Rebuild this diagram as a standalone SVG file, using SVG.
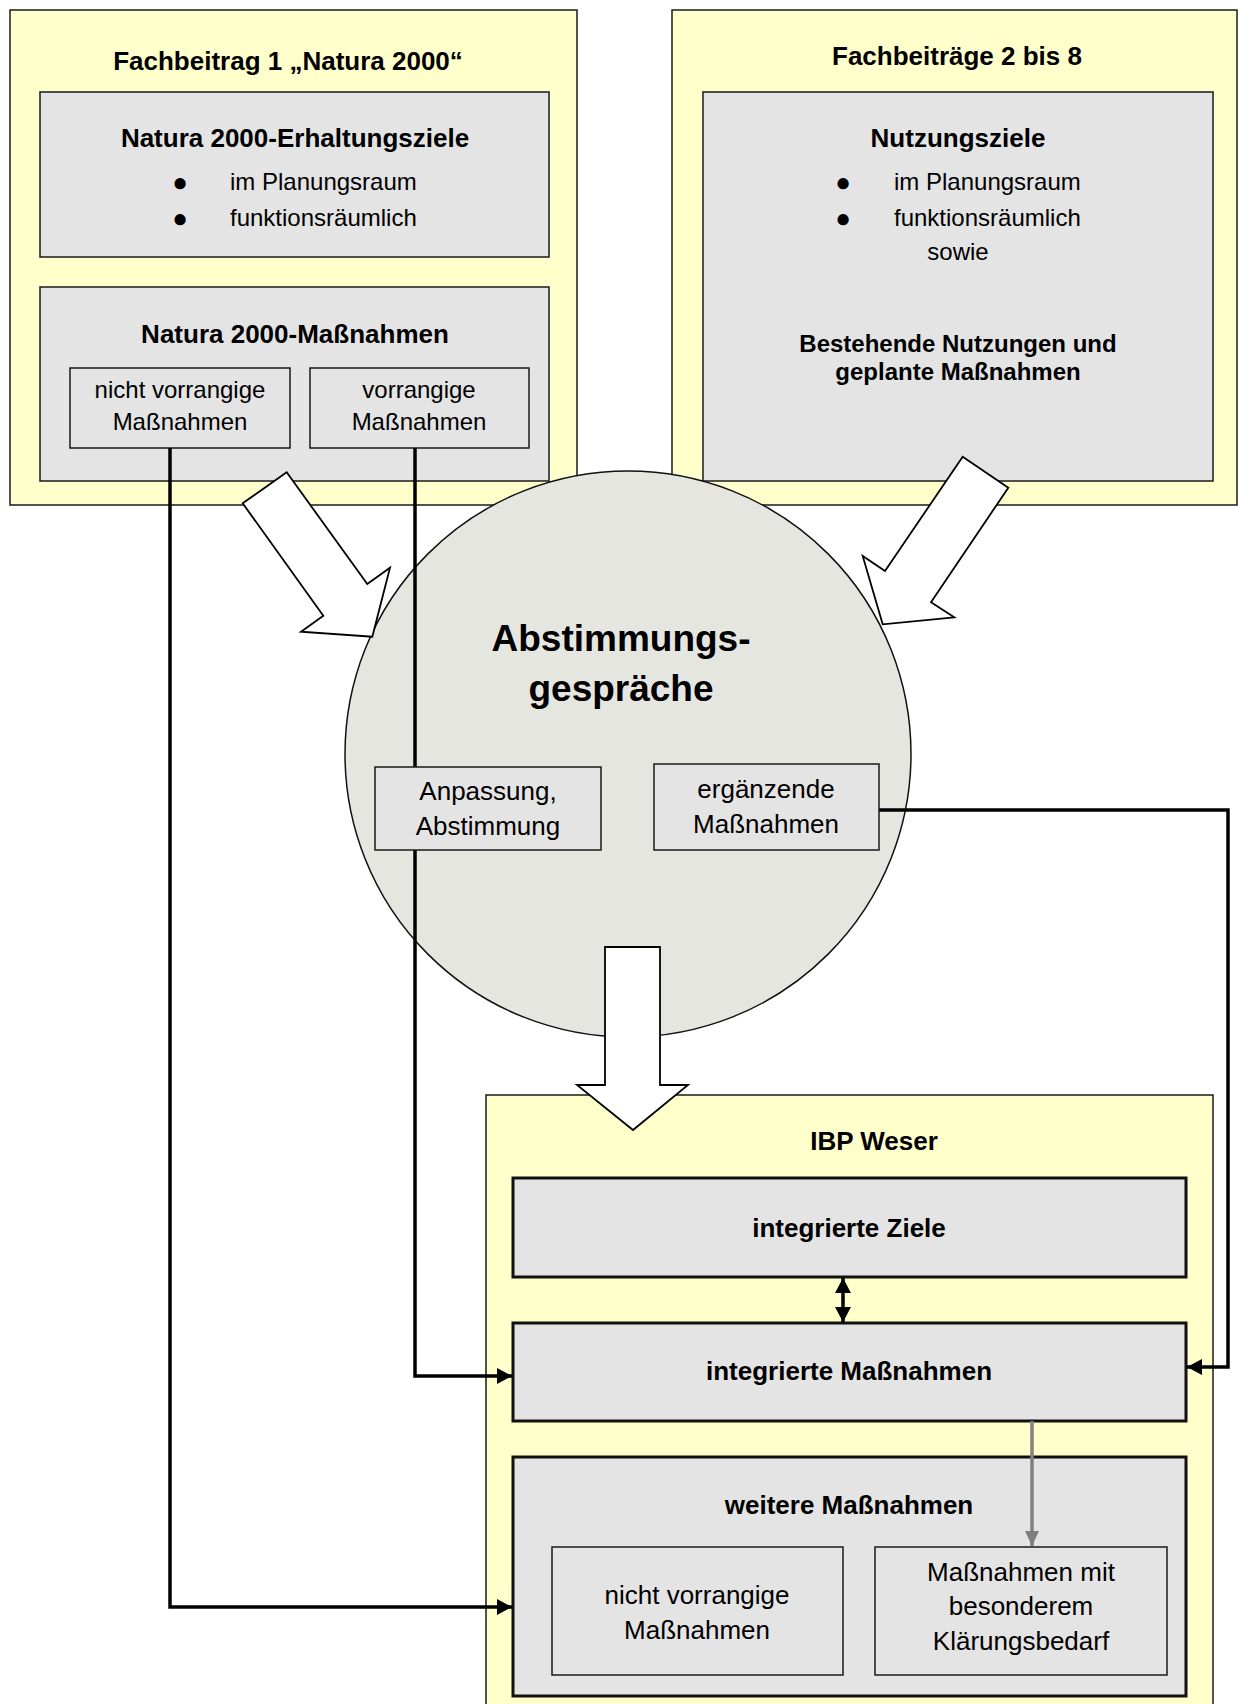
<svg xmlns="http://www.w3.org/2000/svg" width="1238" height="1704" viewBox="0 0 1238 1704">
<defs>
<style>
.yel{fill:#FFFFCC;stroke:#1a1a1a;stroke-width:1.5}
.gry{fill:#E4E4E4;stroke:#1a1a1a;stroke-width:1.5}
.gryb{fill:#E4E4E4;stroke:#111;stroke-width:3}
.circ{fill:#E6E6E1;stroke:#111;stroke-width:1.5}
.blk{fill:#fff;stroke:#000;stroke-width:1.8;stroke-linejoin:miter}
text{font-family:"Liberation Sans",Arial,sans-serif;fill:#000}
.t26b{font-size:26px;font-weight:bold}
.t24b{font-size:24px;font-weight:bold}
.t37b{font-size:37px;font-weight:bold}
.t24{font-size:24px}
.t26{font-size:26px}
.bul{font-size:26px}
.mid{text-anchor:middle}
.con{fill:none;stroke:#000;stroke-width:3.5}
.cong{fill:none;stroke:#808080;stroke-width:3.5}
</style>
<marker id="ah" markerUnits="userSpaceOnUse" markerWidth="15" markerHeight="16" refX="15" refY="8" orient="auto-start-reverse" viewBox="0 0 15 16"><path d="M0,0 L15,8 L0,16 z" fill="#000"/></marker>
<marker id="ahg" markerUnits="userSpaceOnUse" markerWidth="15" markerHeight="14" refX="15" refY="7" orient="auto" viewBox="0 0 15 14"><path d="M0,0 L15,7 L0,14 z" fill="#808080"/></marker>
</defs>
<rect width="1238" height="1704" fill="#fff"/>

<g id="fachbeitrag1">
<rect class="yel" x="10" y="10" width="567" height="495"/>
<text class="t26b mid" x="288" y="70">Fachbeitrag 1 „Natura 2000“</text>
</g>
<g id="erhaltungsziele">
<rect class="gry" x="40" y="92" width="509" height="165"/>
<text class="t26b mid" x="295" y="147">Natura 2000-Erhaltungsziele</text>
<text class="bul mid" x="180" y="191">●</text>
<text class="t24" x="230" y="190">im Planungsraum</text>
<text class="bul mid" x="180" y="227">●</text>
<text class="t24" x="230" y="226">funktionsräumlich</text>
</g>
<g id="natura-massnahmen">
<rect class="gry" x="40" y="287" width="509" height="194"/>
<text class="t26b mid" x="295" y="343">Natura 2000-Maßnahmen</text>
</g>
<g id="nicht-vorrangig-top">
<rect class="gry" x="70" y="368" width="220" height="80"/>
<text class="t24 mid" x="180" y="398">nicht vorrangige</text>
<text class="t24 mid" x="180" y="430">Maßnahmen</text>
</g>
<g id="vorrangig-top">
<rect class="gry" x="310" y="368" width="219" height="80"/>
<text class="t24 mid" x="419" y="398">vorrangige</text>
<text class="t24 mid" x="419" y="430">Maßnahmen</text>
</g>

<g id="fachbeitraege2-8">
<rect class="yel" x="672" y="10" width="565" height="495"/>
<text class="t26b mid" x="957" y="65">Fachbeiträge 2 bis 8</text>
</g>
<g id="nutzungsziele">
<rect class="gry" x="703" y="92" width="510" height="389"/>
<text class="t26b mid" x="958" y="147">Nutzungsziele</text>
<text class="bul mid" x="843" y="191">●</text>
<text class="t24" x="894" y="190">im Planungsraum</text>
<text class="bul mid" x="843" y="227">●</text>
<text class="t24" x="894" y="226">funktionsräumlich</text>
<text class="t24 mid" x="958" y="260">sowie</text>
<text class="t24b mid" x="958" y="352">Bestehende Nutzungen und</text>
<text class="t24b mid" x="958" y="380">geplante Maßnahmen</text>
</g>

<g id="ibp-weser">
<rect class="yel" x="486" y="1095" width="727" height="620"/>
<text class="t26b mid" x="874" y="1150">IBP Weser</text>
</g>
<g id="integrierte-ziele">
<rect class="gryb" x="513" y="1178" width="673" height="99"/>
<text class="t26b mid" x="849" y="1237">integrierte Ziele</text>
</g>
<g id="integrierte-massnahmen">
<rect class="gryb" x="513" y="1323" width="673" height="98"/>
<text class="t26b mid" x="849" y="1380">integrierte Maßnahmen</text>
</g>
<g id="weitere-massnahmen">
<rect class="gryb" x="513" y="1457" width="673" height="239"/>
<text class="t26b mid" x="849" y="1514">weitere Maßnahmen</text>
</g>
<g id="nicht-vorrangig-bottom">
<rect class="gry" x="552" y="1547" width="291" height="128"/>
<text class="t26 mid" x="697" y="1604">nicht vorrangige</text>
<text class="t26 mid" x="697" y="1639">Maßnahmen</text>
</g>
<g id="klaerungsbedarf">
<rect class="gry" x="875" y="1547" width="292" height="128"/>
<text class="t26 mid" x="1021" y="1581">Maßnahmen mit</text>
<text class="t26 mid" x="1021" y="1615">besonderem</text>
<text class="t26 mid" x="1021" y="1650">Klärungsbedarf</text>
</g>

<g id="abstimmungsgespraeche">
<circle class="circ" cx="628" cy="754" r="283"/>
<text class="t37b mid" x="621" y="651">Abstimmungs-</text>
<text class="t37b mid" x="621" y="701">gespräche</text>
</g>

<g id="connectors">
<path class="con" d="M170,448 V1607 H512" marker-end="url(#ah)"/>
<path class="con" d="M415,448 V1376 H512" marker-end="url(#ah)"/>
<path class="con" d="M879,810 H1228 V1367 H1187" marker-end="url(#ah)"/>
<path class="con" d="M843,1278 V1322" marker-start="url(#ah)" marker-end="url(#ah)"/>
<path class="cong" d="M1032,1421 V1546" marker-end="url(#ahg)"/>
</g>

<g id="anpassung">
<rect class="gry" x="375" y="767" width="226" height="83"/>
<text class="t26 mid" x="488" y="800">Anpassung,</text>
<text class="t26 mid" x="488" y="835">Abstimmung</text>
</g>
<g id="ergaenzende">
<rect class="gry" x="654" y="764" width="225" height="86"/>
<text class="t26 mid" x="766" y="798">ergänzende</text>
<text class="t26 mid" x="766" y="833">Maßnahmen</text>
</g>

<g id="block-arrows">
<polygon class="blk" points="242.7,503.3 286.7,472.3 367.3,584 390,567.7 372.3,636.7 301,631.7 323.3,615.7"/>
<polygon class="blk" points="962.7,456.7 1008.3,487.7 931,602.3 954.3,617.3 882.7,624.3 862.7,556 885,571"/>
<polygon class="blk" points="605,947 660,947 660,1085 688,1085 633,1130 577,1085 605,1085"/>
</g>
</svg>
